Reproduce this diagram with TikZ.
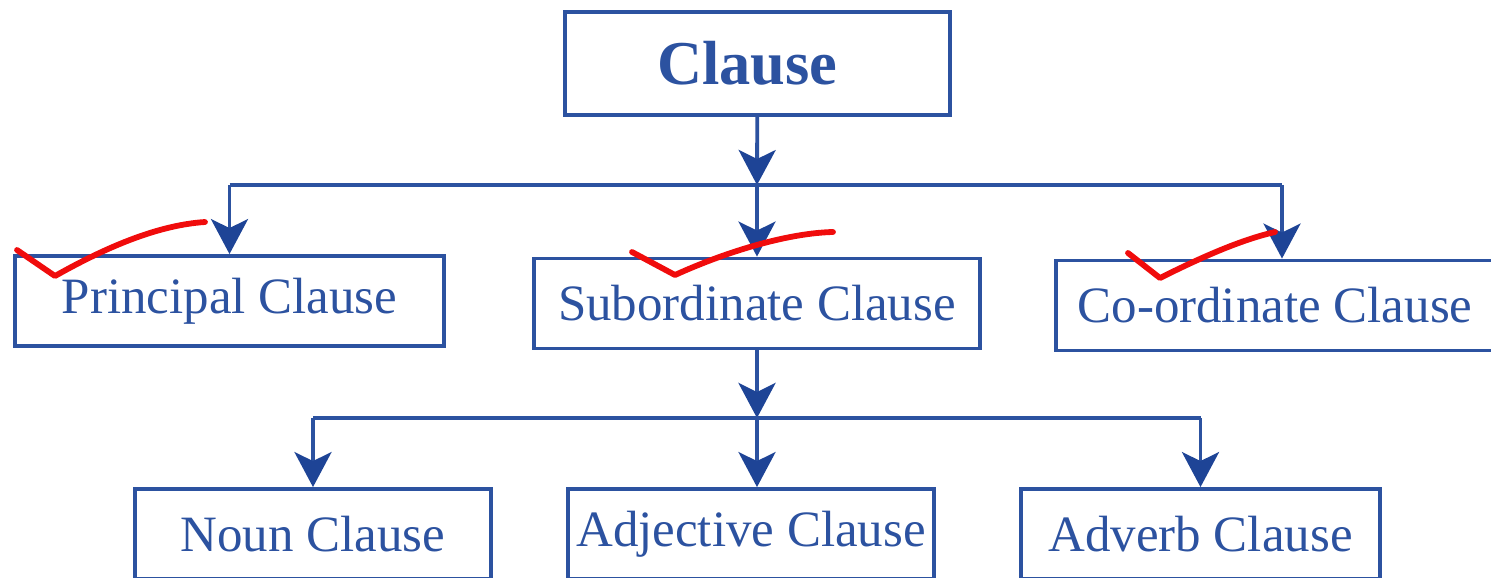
\documentclass[tikz,border=0pt]{standalone}
\usepackage{fontspec}
\setmainfont{Liberation Serif}
\usetikzlibrary{arrows.meta}
\definecolor{clauseblue}{RGB}{44,82,160}
\definecolor{headblue}{RGB}{30,68,150}
\definecolor{tickred}{RGB}{240,12,12}

\begin{document}
\begin{tikzpicture}[x=0.02cm,y=-0.02cm,
	box/.style={draw=clauseblue, line width=2.2pt, text=clauseblue, font=\fontsize{29}{34}\selectfont, minimum height=1.8cm, inner sep=0pt},
	wire/.style={draw=clauseblue, line width=2.2pt},
	arr/.style={wire, -{Stealth[length=0.7cm,width=0.74cm,inset=0.18cm,color=headblue]}},
	tick/.style={draw=tickred, line width=3.3pt, line cap=round, line join=round}]
	\useasboundingbox (0,0) rectangle (1491,578);
	% boxes
	\node[box, minimum width=7.7cm, minimum height=2.06cm, font=\bfseries\fontsize{35.5}{40}\selectfont] (clause) at (757.5,63.5) {Clause\hspace*{0.4cm}};
	\node[box, minimum width=8.58cm] (principal) at (229.5,301) {Principal Clause};
	\node[box, minimum width=8.92cm] (subordinate) at (757,303.5) {Subordinate Clause};
	\node[box, minimum width=8.76cm] (coordinate) at (1275,305.5) {Co-ordinate Clause};
	\node[box, minimum width=7.12cm] (noun) at (313,534) {Noun Clause};
	\node[box, minimum width=7.32cm] (adjective) at (751,534) {Adjective Clause};
	\node[box, minimum width=7.18cm] (adverb) at (1200.5,534) {Adverb Clause};
	% connectors
	\coordinate (bus1) at (757,185);
	\coordinate (bus1r) at (1282,185);
	\coordinate (bus2) at (757,418);
	\draw[arr] (clause) -- (bus1);
	\draw[wire] (bus1 -| principal) -- (bus1r);
	\draw[arr] (bus1 -| principal) -- (principal);
	\draw[arr] (bus1) -- (subordinate);
	\draw[arr] (bus1r) -- (bus1r |- coordinate.north);
	\draw[arr] (subordinate) -- (bus2);
	\draw[wire] (bus2 -| noun) -- (bus2 -| adverb);
	\draw[arr] (bus2 -| noun) -- (noun);
	\draw[arr] (bus2) -- (bus2 |- adjective.north);
	\draw[arr] (bus2 -| adverb) -- (adverb);
	% red ticks
	\draw[tick] (17,250) -- (55,276) .. controls (110,245) and (160,225) .. (205,222);
	\draw[tick] (632,252) -- (675,275) .. controls (730,250) and (790,233) .. (833,232);
	\draw[tick] (1128,253) -- (1160,278) .. controls (1200,258) and (1240,240) .. (1275,232);
\end{tikzpicture}
\end{document}
